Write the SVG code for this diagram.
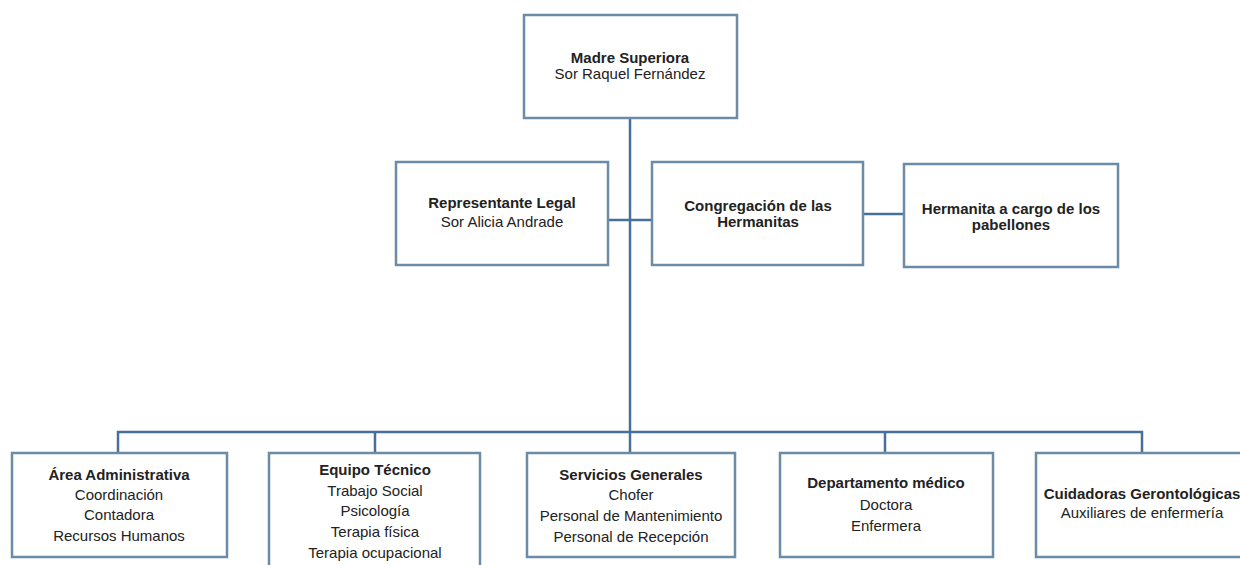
<svg xmlns="http://www.w3.org/2000/svg" width="1240" height="565" viewBox="0 0 1240 565">
<style>
.box{fill:#ffffff;stroke:#6c8ba6;stroke-width:2.5}
.ln{fill:none;stroke:#46709a;stroke-width:2.5}
text{font-family:"Liberation Sans",Arial,sans-serif;font-size:15px;fill:#222;text-anchor:middle}
.b{font-weight:bold}
</style>
<rect width="1240" height="565" fill="#ffffff"/>
<g id="connectors">
<path class="ln" d="M630 118 V432"/>
<path class="ln" d="M608 220 H652"/>
<path class="ln" d="M863 214 H904"/>
<path class="ln" d="M118 453 V432 H1142 V453"/>
<path class="ln" d="M375 432 V453"/>
<path class="ln" d="M630 432 V453"/>
<path class="ln" d="M885 432 V453"/>
</g>
<g id="madre">
<rect class="box" x="524" y="15" width="213" height="103"/>
<text class="b" x="630" y="63">Madre Superiora</text>
<text x="630" y="79">Sor Raquel Fernández</text>
</g>
<g id="representante">
<rect class="box" x="396" y="162" width="212" height="103"/>
<text class="b" x="502" y="208">Representante Legal</text>
<text x="502" y="227">Sor Alicia Andrade</text>
</g>
<g id="congregacion">
<rect class="box" x="652" y="162" width="211" height="103"/>
<text class="b" x="758" y="211">Congregación de las</text>
<text class="b" x="758" y="227">Hermanitas</text>
</g>
<g id="hermanita">
<rect class="box" x="904" y="164" width="214" height="103"/>
<text class="b" x="1011" y="214">Hermanita a cargo de los</text>
<text class="b" x="1011" y="230">pabellones</text>
</g>
<g id="area">
<rect class="box" x="12" y="453" width="215" height="104"/>
<text class="b" x="119" y="480">Área Administrativa</text>
<text x="119" y="500">Coordinación</text>
<text x="119" y="520">Contadora</text>
<text x="119" y="541">Recursos Humanos</text>
</g>
<g id="equipo">
<rect class="box" x="269" y="453" width="211" height="130"/>
<text class="b" x="375" y="475">Equipo Técnico</text>
<text x="375" y="496">Trabajo Social</text>
<text x="375" y="516">Psicología</text>
<text x="375" y="537">Terapia física</text>
<text x="375" y="558">Terapia ocupacional</text>
</g>
<g id="servicios">
<rect class="box" x="527" y="453" width="208" height="104"/>
<text class="b" x="631" y="480">Servicios Generales</text>
<text x="631" y="500">Chofer</text>
<text x="631" y="521">Personal de Mantenimiento</text>
<text x="631" y="542">Personal de Recepción</text>
</g>
<g id="departamento">
<rect class="box" x="780" y="453" width="213" height="104"/>
<text class="b" x="886" y="488">Departamento médico</text>
<text x="886" y="510">Doctora</text>
<text x="886" y="531">Enfermera</text>
</g>
<g id="cuidadoras">
<rect class="box" x="1036" y="453" width="213" height="104"/>
<text class="b" x="1142" y="499">Cuidadoras Gerontológicas</text>
<text x="1142" y="518">Auxiliares de enfermería</text>
</g>
</svg>
